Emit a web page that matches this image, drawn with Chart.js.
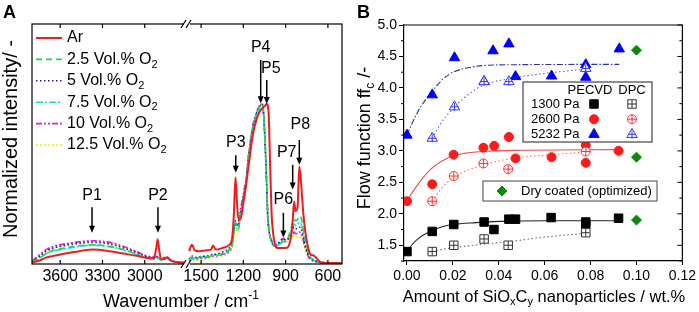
<!DOCTYPE html>
<html>
<head>
<meta charset="utf-8">
<script src="https://cdn.jsdelivr.net/npm/chart.js@4.4.0/dist/chart.umd.min.js"></script>
<style>
  html, body { margin: 0; padding: 0; background: #fff; }
  #wrap { position: relative; width: 699px; height: 312px; }
  canvas { position: absolute; top: 0; }
  #chartA { left: 0; }
  #chartB { left: 350px; }
</style>
</head>
<body>
<div id="wrap">
  <canvas id="chartA" width="350" height="312"></canvas>
  <canvas id="chartB" width="349" height="312"></canvas>
</div>
<script>
// ---------- Panel A data: FTIR spectra (wavenumber in cm-1) ----------
const wavenumbers = [
  3800, 3750, 3700, 3650, 3600, 3500, 3370, 3250, 3150, 3050, 3000, 2960, 2930, 2918, 2908, 2898, 2885, 2865, 2845, 2810, 2750, 2720,
  1585, 1565, 1545, 1510, 1470, 1430, 1415, 1395, 1350, 1300, 1280, 1268, 1256, 1245, 1235, 1220, 1200, 1180, 1165, 1150,
  1134, 1117, 1096, 1080, 1070, 1058, 1045, 1035, 1027, 1020, 1011, 1000, 990, 975, 960, 940, 916, 900, 880, 860,
  850, 840, 830, 815, 803, 790, 775, 760, 745, 730, 715, 706, 690, 670, 655, 620, 560, 500
];
const ar = [
  0.01, 0.02, 0.04, 0.05, 0.06, 0.075, 0.09, 0.08, 0.065, 0.05, 0.04, 0.035, 0.05, 0.1, 0.155, 0.09, 0.035, 0.03, 0.04, 0.02, 0.01, 0.008,
  0.08, 0.12, 0.085, 0.08, 0.085, 0.09, 0.115, 0.09, 0.1, 0.12, 0.16, 0.3, 0.54, 0.38, 0.28, 0.28, 0.38, 0.5, 0.6, 0.7,
  0.8, 0.87, 0.93, 0.96, 0.97, 0.98, 0.99, 1.0, 0.99, 0.93, 0.65, 0.32, 0.2, 0.12, 0.1, 0.1, 0.1, 0.1, 0.11, 0.18,
  0.27, 0.39, 0.33, 0.36, 0.61, 0.5, 0.32, 0.2, 0.12, 0.07, 0.055, 0.055, 0.045, 0.025, 0.012, 0.008, 0.006, 0.005
];
const o2_25 = [
  0.012, 0.035, 0.065, 0.085, 0.095, 0.11, 0.12, 0.11, 0.09, 0.06, 0.045, 0.035, 0.03, 0.035, 0.04, 0.035, 0.025, 0.03, 0.035, 0.018, 0.01, 0.008,
  0.025, 0.045, 0.035, 0.04, 0.045, 0.05, 0.06, 0.055, 0.065, 0.09, 0.12, 0.2, 0.26, 0.22, 0.22, 0.3, 0.4, 0.5, 0.65, 0.75,
  0.84, 0.9, 0.96, 0.99, 1.0, 0.96, 0.76, 0.52, 0.3, 0.22, 0.17, 0.14, 0.12, 0.11, 0.11, 0.12, 0.14, 0.14, 0.17, 0.23,
  0.26, 0.28, 0.27, 0.28, 0.3, 0.29, 0.22, 0.15, 0.09, 0.05, 0.035, 0.03, 0.02, 0.015, 0.01, 0.008, 0.006, 0.005
];
const o2_5 = [
  0.015, 0.045, 0.08, 0.1, 0.11, 0.125, 0.135, 0.125, 0.1, 0.07, 0.05, 0.04, 0.035, 0.04, 0.045, 0.04, 0.03, 0.035, 0.04, 0.02, 0.01, 0.008,
  0.03, 0.05, 0.04, 0.045, 0.05, 0.055, 0.065, 0.06, 0.075, 0.1, 0.14, 0.22, 0.27, 0.24, 0.25, 0.32, 0.42, 0.52, 0.66, 0.76,
  0.85, 0.91, 0.97, 0.99, 1.0, 0.96, 0.74, 0.5, 0.3, 0.22, 0.17, 0.14, 0.12, 0.115, 0.12, 0.14, 0.16, 0.15, 0.16, 0.2,
  0.22, 0.23, 0.22, 0.22, 0.23, 0.22, 0.17, 0.11, 0.07, 0.04, 0.03, 0.025, 0.02, 0.012, 0.01, 0.008, 0.006, 0.005
];
const o2_75 = [
  0.012, 0.035, 0.065, 0.08, 0.09, 0.105, 0.118, 0.108, 0.088, 0.058, 0.042, 0.033, 0.03, 0.034, 0.038, 0.034, 0.025, 0.03, 0.034, 0.018, 0.01, 0.008,
  0.025, 0.04, 0.035, 0.04, 0.045, 0.05, 0.058, 0.055, 0.065, 0.085, 0.12, 0.2, 0.25, 0.22, 0.23, 0.3, 0.41, 0.51, 0.65, 0.75,
  0.84, 0.9, 0.96, 0.99, 1.0, 0.96, 0.75, 0.51, 0.3, 0.22, 0.17, 0.14, 0.12, 0.11, 0.115, 0.125, 0.145, 0.14, 0.16, 0.21,
  0.23, 0.25, 0.24, 0.25, 0.26, 0.25, 0.19, 0.13, 0.08, 0.045, 0.03, 0.025, 0.02, 0.013, 0.01, 0.008, 0.006, 0.005
];
const o2_10 = [
  0.018, 0.055, 0.09, 0.11, 0.12, 0.135, 0.145, 0.135, 0.11, 0.075, 0.055, 0.045, 0.04, 0.045, 0.05, 0.045, 0.035, 0.04, 0.045, 0.022, 0.012, 0.008,
  0.02, 0.035, 0.03, 0.035, 0.04, 0.045, 0.05, 0.05, 0.06, 0.08, 0.12, 0.2, 0.26, 0.24, 0.26, 0.34, 0.44, 0.54, 0.67, 0.77,
  0.86, 0.92, 0.97, 0.995, 1.0, 0.95, 0.73, 0.49, 0.3, 0.23, 0.18, 0.15, 0.13, 0.12, 0.125, 0.14, 0.16, 0.15, 0.155, 0.18,
  0.19, 0.2, 0.19, 0.19, 0.2, 0.19, 0.15, 0.1, 0.06, 0.035, 0.025, 0.02, 0.015, 0.01, 0.008, 0.007, 0.006, 0.005
];
const o2_125 = [
  0.01, 0.04, 0.075, 0.1, 0.11, 0.13, 0.14, 0.13, 0.105, 0.072, 0.052, 0.042, 0.036, 0.04, 0.045, 0.04, 0.032, 0.036, 0.04, 0.02, 0.01, 0.008,
  0.015, 0.025, 0.022, 0.025, 0.03, 0.035, 0.04, 0.04, 0.05, 0.07, 0.1, 0.17, 0.22, 0.2, 0.22, 0.3, 0.41, 0.52, 0.65, 0.76,
  0.85, 0.91, 0.96, 0.99, 1.0, 0.97, 0.8, 0.56, 0.34, 0.25, 0.19, 0.15, 0.13, 0.115, 0.115, 0.13, 0.15, 0.14, 0.14, 0.16,
  0.17, 0.18, 0.175, 0.17, 0.17, 0.165, 0.13, 0.09, 0.055, 0.035, 0.025, 0.02, 0.015, 0.01, 0.008, 0.007, 0.006, 0.005
];
const tickWaves = [3600, 3300, 3000, 1500, 1200, 900, 600];
const peakNames = ["P1", "P2", "P3", "P4", "P5", "P6", "P7", "P8"];
const peakWaves = [3374, 2906, 1254, 1077, 1034, 916, 850, 803];

// ---------- Panel B data: flow function vs. nanoparticle amount ----------
const pecvd1300X = [0, 0.011, 0.0204, 0.0336, 0.0379, 0.0444, 0.0473, 0.0628, 0.0779, 0.0779, 0.0922];
const pecvd1300Y = [1.40, 1.72, 1.83, 1.87, 1.75, 1.915, 1.915, 1.94, 1.87, 1.83, 1.93];
const dpc1300X = [0.011, 0.0204, 0.0336, 0.0441, 0.0779];
const dpc1300Y = [1.40, 1.50, 1.60, 1.50, 1.70];
const pecvd2600X = [0, 0.011, 0.0203, 0.0333, 0.038, 0.0444, 0.0473, 0.063, 0.0779, 0.0779, 0.0922];
const pecvd2600Y = [2.20, 2.47, 2.94, 3.05, 3.08, 3.22, 2.88, 2.90, 3.09, 2.81, 3.00];
const dpc2600X = [0.011, 0.0204, 0.0333, 0.0441, 0.0779];
const dpc2600Y = [2.20, 2.60, 2.80, 2.71, 2.99];
const pecvd5232X = [0, 0.011, 0.0207, 0.0336, 0.0375, 0.0444, 0.0473, 0.063, 0.0779, 0.0779, 0.0925];
const pecvd5232Y = [3.25, 3.89, 4.48, 4.10, 4.59, 4.70, 4.18, 4.19, 4.37, 4.17, 4.62];
const dpc5232X = [0.011, 0.0207, 0.0336, 0.0444, 0.0779];
const dpc5232Y = [3.20, 3.70, 4.10, 4.10, 4.31];
const dryCoatedX = [0.1, 0.1, 0.1];
const dryCoatedY = [4.60, 2.90, 1.90];

// fitted curves
const fitPecvd1300X = [0, 0.002, 0.005, 0.01, 0.015, 0.02, 0.03, 0.04, 0.06, 0.0922];
const fitPecvd1300Y = [1.40, 1.50, 1.61, 1.72, 1.79, 1.83, 1.86, 1.88, 1.89, 1.89];
const fitDpc1300X = [0.011, 0.02, 0.034, 0.045, 0.06, 0.0779];
const fitDpc1300Y = [1.41, 1.46, 1.52, 1.56, 1.63, 1.69];
const fitPecvd2600X = [0, 0.002, 0.005, 0.0085, 0.012, 0.0185, 0.025, 0.035, 0.05, 0.0922];
const fitPecvd2600Y = [2.20, 2.32, 2.48, 2.64, 2.76, 2.90, 2.96, 2.995, 3.01, 3.02];
const fitDpc2600X = [0.011, 0.015, 0.0204, 0.03, 0.04, 0.05, 0.063, 0.0779];
const fitDpc2600Y = [2.20, 2.40, 2.58, 2.74, 2.84, 2.90, 2.94, 2.98];
const fitPecvd5232X = [0, 0.003, 0.006, 0.011, 0.016, 0.0207, 0.028, 0.035, 0.05, 0.0925];
const fitPecvd5232Y = [3.25, 3.50, 3.70, 3.95, 4.15, 4.26, 4.33, 4.36, 4.37, 4.375];
const fitDpc5232X = [0.011, 0.015, 0.0207, 0.028, 0.0336, 0.045, 0.06, 0.0779];
const fitDpc5232Y = [3.20, 3.45, 3.70, 3.93, 4.05, 4.15, 4.23, 4.30];

const xTicksB = [0, 0.02, 0.04, 0.06, 0.08, 0.1, 0.12];
const yTicksB = [1.5, 2.0, 2.5, 3.0, 3.5, 4.0, 4.5, 5.0];

const FONT = '"Liberation Sans", Arial, sans-serif';

// ---------- helpers ----------
// broken x axis: 3800..2700 on the left, 1600..500 on the right
const LEFT_START = 3800, BREAK_HIGH = 2700, BREAK_LOW = 1600;
const SEG = LEFT_START - BREAK_HIGH;
function toAxis(w) {
  return w > 2000 ? LEFT_START - w : SEG + (BREAK_LOW - w);
}
function fromAxis(v) {
  return v <= SEG ? LEFT_START - v : BREAK_LOW - (v - SEG);
}
function spectrumPoints(values) {
  const pts = [];
  wavenumbers.forEach((w, i) => {
    if (i > 0 && wavenumbers[i - 1] > 2000 && w < 2000) pts.push({ x: SEG, y: null });
    pts.push({ x: toAxis(w), y: values[i] });
  });
  return pts;
}
function pts(xs, ys) {
  return xs.map((x, i) => ({ x: x, y: ys[i] }));
}

// text with sub/superscripts: parts = [{t, s}] with s = -1 sub, 1 sup
function drawRich(ctx, parts, x, y, size, opts = {}) {
  ctx.save();
  ctx.translate(x, y);
  if (opts.rotate) ctx.rotate(-Math.PI / 2);
  ctx.fillStyle = "#000";
  ctx.textBaseline = "middle";
  ctx.textAlign = "left";
  const small = Math.round(size * 0.68);
  const fontFor = (p) => (opts.bold ? "bold " : "") + (p.s ? small : size) + "px " + FONT;
  let total = 0;
  const widths = parts.map((p) => {
    ctx.font = fontFor(p);
    const w = ctx.measureText(p.t).width;
    total += w;
    return w;
  });
  let cx = opts.align === "left" ? 0 : -total / 2;
  parts.forEach((p, i) => {
    ctx.font = fontFor(p);
    const dy = p.s === -1 ? size * 0.32 : p.s === 1 ? -size * 0.35 : 0;
    ctx.fillText(p.t, cx, dy);
    cx += widths[i];
  });
  ctx.restore();
}

function drawMarker(ctx, m, x, y) {
  const r = m.r;
  ctx.beginPath();
  if (m.style === "rect") {
    const s = r * Math.SQRT1_2;
    ctx.rect(x - s, y - s, 2 * s, 2 * s);
  } else if (m.style === "circle") {
    ctx.arc(x, y, r, 0, Math.PI * 2);
  } else if (m.style === "triangle") {
    ctx.moveTo(x, y - r);
    ctx.lineTo(x + r * Math.sin((2 * Math.PI) / 3), y - r * Math.cos((2 * Math.PI) / 3));
    ctx.lineTo(x + r * Math.sin((4 * Math.PI) / 3), y - r * Math.cos((4 * Math.PI) / 3));
    ctx.closePath();
  } else if (m.style === "rectRot") {
    ctx.moveTo(x, y - r);
    ctx.lineTo(x + r, y);
    ctx.lineTo(x, y + r);
    ctx.lineTo(x - r, y);
    ctx.closePath();
  }
  ctx.fillStyle = m.fill;
  ctx.fill();
  ctx.strokeStyle = m.stroke;
  ctx.lineWidth = 1;
  ctx.stroke();
  if (m.cross) {
    ctx.beginPath();
    ctx.moveTo(x - m.cross, y);
    ctx.lineTo(x + m.cross, y);
    ctx.moveTo(x, y - m.cross);
    ctx.lineTo(x, y + m.cross);
    ctx.stroke();
  }
}

// ---------- Panel A ----------
const seriesA = [
  { label: "Ar", values: ar, color: "#ee1c1c", dash: [], width: 2, parts: [{ t: "Ar" }] },
  { label: "2.5", values: o2_25, color: "#1fd848", dash: [6, 4], width: 1.6, parts: [{ t: "2.5 Vol.% O" }, { t: "2", s: -1 }] },
  { label: "5", values: o2_5, color: "#1c1c9c", dash: [1.5, 2.5], width: 1.6, parts: [{ t: "5 Vol.% O" }, { t: "2", s: -1 }] },
  { label: "7.5", values: o2_75, color: "#12dede", dash: [7, 2, 2, 2], width: 1.6, parts: [{ t: "7.5 Vol.% O" }, { t: "2", s: -1 }] },
  { label: "10", values: o2_10, color: "#e01ce0", dash: [6, 2, 2, 2, 2, 2], width: 1.6, parts: [{ t: "10 Vol.% O" }, { t: "2", s: -1 }] },
  { label: "12.5", values: o2_125, color: "#eeee10", dash: [2, 2], width: 1.6, parts: [{ t: "12.5 Vol.% O" }, { t: "2", s: -1 }] },
];

// label y, arrow start, arrow tip (intensity units) and label shift (px)
const peakLayout = [
  [0.43, 0.355, 0.195, 0], [0.43, 0.355, 0.195, 0], [0.756, 0.68, 0.57, 0],
  [1.35, 1.275, 1.005, 0], [1.22, 1.15, 1.0, 4], [0.40, 0.32, 0.165, 0],
  [0.695, 0.62, 0.465, -6], [0.87, 0.775, 0.62, 1],
];

const panelAPlugin = {
  id: "panelA",
  afterDraw(chart) {
    const { ctx, chartArea: a, scales } = chart;
    const x = scales.x, y = scales.y;
    ctx.save();
    ctx.strokeStyle = "#000";
    ctx.lineWidth = 1.2;
    ctx.strokeRect(a.left, a.top, a.right - a.left, a.bottom - a.top);

    // inward major ticks
    ctx.beginPath();
    tickWaves.forEach((w) => {
      const px = x.getPixelForValue(toAxis(w));
      ctx.moveTo(px, a.bottom); ctx.lineTo(px, a.bottom - 4);
      ctx.moveTo(px, a.top); ctx.lineTo(px, a.top + 4);
    });
    ctx.stroke();

    // axis break marks
    const bx = x.getPixelForValue(SEG);
    [a.top, a.bottom].forEach((by) => {
      ctx.fillStyle = "#fff";
      ctx.fillRect(bx - 3, by - 2, 6, 4);
      ctx.beginPath();
      ctx.moveTo(bx - 6, by + 4); ctx.lineTo(bx - 1, by - 4);
      ctx.moveTo(bx - 1, by + 4); ctx.lineTo(bx + 4, by - 4);
      ctx.stroke();
    });

    // peak labels and arrows
    ctx.fillStyle = "#000";
    ctx.font = "16px " + FONT;
    ctx.textAlign = "center";
    ctx.textBaseline = "middle";
    peakNames.forEach((name, i) => {
      const [ly, from, tip, dx] = peakLayout[i];
      const px = x.getPixelForValue(toAxis(peakWaves[i]));
      ctx.fillText(name, px + dx, y.getPixelForValue(ly));
      const y0 = y.getPixelForValue(from), y1 = y.getPixelForValue(tip);
      ctx.lineWidth = 1.5;
      ctx.beginPath();
      ctx.moveTo(px, y0); ctx.lineTo(px, y1 - 5);
      ctx.stroke();
      ctx.beginPath();
      ctx.moveTo(px - 3, y1 - 7); ctx.lineTo(px + 3, y1 - 7); ctx.lineTo(px, y1);
      ctx.closePath();
      ctx.fill();
    });

    // legend
    seriesA.forEach((s, i) => {
      const ly = a.top + 14 + i * 21.4;
      ctx.strokeStyle = s.color;
      ctx.lineWidth = s.width;
      ctx.setLineDash(s.dash);
      ctx.beginPath();
      ctx.moveTo(a.left + 4, ly); ctx.lineTo(a.left + 30, ly);
      ctx.stroke();
      ctx.setLineDash([]);
      drawRich(ctx, s.parts, a.left + 35, ly, 16, { align: "left" });
    });

    // titles
    drawRich(ctx, [{ t: "Normalized intensity/ -" }], 11, 139, 20, { rotate: true });
    drawRich(ctx, [{ t: "Wavenumber / cm" }, { t: "-1", s: 1 }], 181, 302, 18);
    drawRich(ctx, [{ t: "A" }], 3, 13, 18, { bold: true, align: "left" });
    ctx.restore();
  },
};

new Chart(document.getElementById("chartA"), {
  type: "line",
  data: {
    datasets: seriesA.map((s) => ({
      label: s.label,
      data: spectrumPoints(s.values),
      borderColor: s.color,
      borderWidth: s.width,
      borderDash: s.dash,
      pointRadius: 0,
      fill: false,
      spanGaps: false,
      cubicInterpolationMode: "monotone",
    })),
  },
  options: {
    responsive: false,
    animation: false,
    devicePixelRatio: 1,
    layout: { padding: { top: 24, right: 8, left: 0, bottom: 0 } },
    plugins: { legend: { display: false }, tooltip: { enabled: false } },
    scales: {
      x: {
        type: "linear",
        min: 0,
        max: 2 * SEG,
        afterBuildTicks: (s) => { s.ticks = tickWaves.map((w) => ({ value: toAxis(w) })); },
        afterFit: (s) => { s.height = 48; },
        ticks: {
          callback: (v) => String(fromAxis(v)),
          color: "#000",
          font: { family: FONT, size: 16 },
          padding: 3,
          maxRotation: 0,
          autoSkip: false,
        },
        grid: { display: false, drawTicks: false },
        border: { display: false },
      },
      y: {
        min: 0,
        max: 1.5,
        ticks: { display: false },
        grid: { display: false, drawTicks: false },
        border: { display: false },
        afterFit: (s) => { s.width = 32; },
      },
    },
  },
  plugins: [panelAPlugin],
});

// ---------- Panel B ----------
const markersB = {
  p1300: { style: "rect", r: 6, fill: "#000", stroke: "#000" },
  d1300: { style: "rect", r: 6, fill: "#fff", stroke: "#333", cross: 4 },
  p2600: { style: "circle", r: 4.5, fill: "#ff1a1a", stroke: "#ff1a1a" },
  d2600: { style: "circle", r: 4.5, fill: "#fff", stroke: "#ff3030", cross: 4.5 },
  p5232: { style: "triangle", r: 6, fill: "#0000ff", stroke: "#0000ff" },
  d5232: { style: "triangle", r: 6, fill: "#fff", stroke: "#3535ff", cross: 4 },
  dry: { style: "rectRot", r: 5, fill: "#0a8a0a", stroke: "#0a8a0a" },
};

function markerSet(xs, ys, m) {
  const sets = [];
  if (m.cross) {
    sets.push({
      data: pts(xs, ys), showLine: false, pointStyle: "cross", pointRadius: m.cross,
      pointBorderColor: m.stroke, pointBorderWidth: 1, pointBackgroundColor: m.stroke,
    });
  }
  sets.push({
    data: pts(xs, ys), showLine: false, pointStyle: m.style, pointRadius: m.r,
    pointBackgroundColor: m.fill, pointBorderColor: m.stroke, pointBorderWidth: 1,
  });
  return sets;
}
function fitLine(xs, ys, color, dash) {
  return {
    data: pts(xs, ys), showLine: true, pointRadius: 0, borderColor: color, borderWidth: 1.1,
    borderDash: dash, cubicInterpolationMode: "monotone", fill: false,
  };
}

const panelBPlugin = {
  id: "panelB",
  afterDraw(chart) {
    const { ctx, chartArea: a, scales } = chart;
    const x = scales.x, y = scales.y;
    ctx.save();
    ctx.strokeStyle = "#000";
    ctx.lineWidth = 1.2;
    ctx.beginPath();
    ctx.moveTo(a.left, a.top); ctx.lineTo(a.right, a.top); ctx.lineTo(a.right, a.bottom);
    ctx.stroke();

    // minor ticks left (outward) and right (inward)
    ctx.lineWidth = 1;
    ctx.beginPath();
    yTicksB.forEach((v) => {
      const py = y.getPixelForValue(v);
      ctx.moveTo(a.right, py); ctx.lineTo(a.right - 5, py);
      const pm = y.getPixelForValue(v - 0.25);
      ctx.moveTo(a.left, pm); ctx.lineTo(a.left - 3, pm);
      ctx.moveTo(a.right, pm); ctx.lineTo(a.right - 3, pm);
    });
    ctx.stroke();

    // legend 1
    ctx.fillStyle = "#fff";
    ctx.strokeStyle = "#444";
    ctx.lineWidth = 1.2;
    ctx.fillRect(173, 82, 129, 60);
    ctx.strokeRect(173, 82, 129, 60);
    ctx.fillStyle = "#000";
    ctx.font = "13px " + FONT;
    ctx.textBaseline = "middle";
    ctx.textAlign = "center";
    ctx.fillText("PECVD", 240, 90);
    ctx.fillText("DPC", 282, 90);
    ctx.textAlign = "left";
    const rows = [["1300 Pa", markersB.p1300, markersB.d1300], ["2600 Pa", markersB.p2600, markersB.d2600], ["5232 Pa", markersB.p5232, markersB.d5232]];
    rows.forEach((r, i) => {
      const ry = 104 + i * 15.2;
      ctx.fillStyle = "#000";
      ctx.fillText(r[0], 181, ry);
      drawMarker(ctx, r[1], 244, ry);
      drawMarker(ctx, r[2], 282, ry);
    });

    // legend 2
    ctx.fillStyle = "#fff";
    ctx.strokeStyle = "#444";
    ctx.fillRect(133, 181, 174, 20);
    ctx.strokeRect(133, 181, 174, 20);
    drawMarker(ctx, markersB.dry, 152, 191);
    ctx.fillStyle = "#000";
    ctx.textAlign = "left";
    ctx.fillText("Dry coated (optimized)", 171, 191.5);

    // titles
    drawRich(ctx, [{ t: "Flow function ff" }, { t: "c", s: -1 }, { t: " /-" }], 15, 138, 18, { rotate: true });
    drawRich(ctx, [{ t: "Amount of SiO" }, { t: "x", s: -1 }, { t: "C" }, { t: "y", s: -1 }, { t: " nanoparticles / wt.%" }], 194, 297, 16.5);
    drawRich(ctx, [{ t: "B" }], 7, 13, 18, { bold: true, align: "left" });
    ctx.restore();
  },
};

new Chart(document.getElementById("chartB"), {
  type: "scatter",
  data: {
    datasets: [
      ...markerSet(dpc5232X, dpc5232Y, markersB.d5232),
      ...markerSet(dpc2600X, dpc2600Y, markersB.d2600),
      ...markerSet(dpc1300X, dpc1300Y, markersB.d1300),
      ...markerSet(pecvd5232X, pecvd5232Y, markersB.p5232),
      ...markerSet(pecvd2600X, pecvd2600Y, markersB.p2600),
      ...markerSet(pecvd1300X, pecvd1300Y, markersB.p1300),
      ...markerSet(dryCoatedX, dryCoatedY, markersB.dry),
      fitLine(fitPecvd5232X, fitPecvd5232Y, "#2d2db4", [6, 2, 1.5, 2]),
      fitLine(fitDpc5232X, fitDpc5232Y, "#5c5cf0", [1.5, 2.5]),
      fitLine(fitPecvd2600X, fitPecvd2600Y, "#e85050", []),
      fitLine(fitDpc2600X, fitDpc2600Y, "#ee7070", [1.5, 2.5]),
      fitLine(fitPecvd1300X, fitPecvd1300Y, "#222", []),
      fitLine(fitDpc1300X, fitDpc1300Y, "#666", [1.5, 2.5]),
    ],
  },
  options: {
    responsive: false,
    animation: false,
    devicePixelRatio: 1,
    layout: { padding: { top: 25, right: 14, left: 0, bottom: 0 } },
    plugins: { legend: { display: false }, tooltip: { enabled: false } },
    scales: {
      x: {
        type: "linear",
        min: -0.0013,
        max: 0.12,
        afterBuildTicks: (s) => { s.ticks = xTicksB.map((v) => ({ value: v })); },
        afterFit: (s) => { s.height = 51; },
        ticks: {
          callback: (v) => v.toFixed(2),
          color: "#000",
          font: { family: FONT, size: 14 },
          padding: 3,
          maxRotation: 0,
          autoSkip: false,
        },
        grid: { display: true, drawOnChartArea: false, drawTicks: true, tickLength: 4, color: "#000" },
        border: { display: true, color: "#000", width: 1.2 },
      },
      y: {
        type: "linear",
        min: 1.25,
        max: 5.0,
        afterBuildTicks: (s) => { s.ticks = yTicksB.map((v) => ({ value: v })); },
        afterFit: (s) => { s.width = 54; },
        ticks: {
          callback: (v) => v.toFixed(1),
          color: "#000",
          font: { family: FONT, size: 14 },
          padding: 2,
          autoSkip: false,
        },
        grid: { display: true, drawOnChartArea: false, drawTicks: true, tickLength: 5, color: "#000" },
        border: { display: true, color: "#000", width: 1.2 },
      },
    },
  },
  plugins: [panelBPlugin],
});
</script>
</body>
</html>
